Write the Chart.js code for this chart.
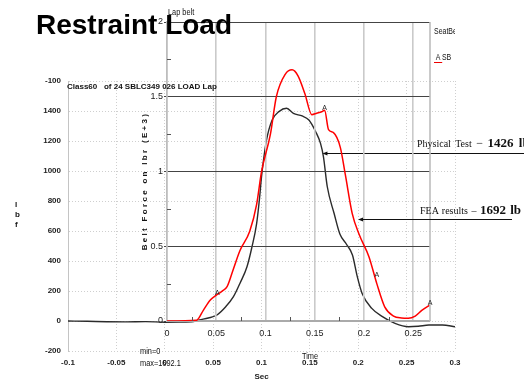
<!DOCTYPE html>
<html lang="en">
<head>
<meta charset="UTF-8" />
<title>Restraint Load</title>
<style>
  body { margin: 0; background: #fff; }
  #wrap {
    position: relative;
    width: 524px;
    height: 380px;
    overflow: hidden;
    font-family: 'Liberation Sans', Arial, sans-serif;
    color: #111;
  }
  .layer { position: absolute; left: 0; top: 0; width: 524px; height: 380px; }
  .txt { position: absolute; white-space: pre; line-height: 1; }
  /* no narrow face installed, so squeeze the regular one */
  .narrow { transform: scaleX(0.82); transform-origin: 0 0; }
  .serif { font-family: 'Liberation Serif', 'Times New Roman', serif; }
</style>
</head>
<body>
<div id="wrap">
  <div class="layer"><canvas id="testChart"></canvas></div>
  <div class="layer"><canvas id="feaChart"></canvas></div>

  <div class="txt narrow" style="left:168px;top:8px;font-size:9px;">Lap belt</div>
  <div class="txt" style="left:36px;top:11px;font-size:28px;font-weight:bold;color:#000;">Restraint Load</div>
  <div class="txt" style="left:67px;top:83px;font-size:8px;font-weight:bold;">Class60   of 24 SBLC349 026 LOAD Lap</div>
  <div class="txt" style="left:434px;top:27px;width:21px;height:10px;overflow:hidden;"><div class="narrow" style="font-size:8.5px;">SeatBelt</div></div>
  <div class="txt narrow" style="left:434px;top:53px;font-size:8.5px;"><span style="border-bottom:1.5px solid #e00;padding:0 2px;">A</span>SB</div>
  <div class="txt" style="left:15px;top:200px;font-size:8px;font-weight:bold;line-height:10px;">l<br>b<br>f</div>
  <div class="txt" style="left:145px;top:181px;font-size:8px;font-weight:bold;letter-spacing:2.3px;transform:translate(-50%,-50%) rotate(-90deg);">Belt Force on lbr (E+3)</div>

  <div class="txt serif" style="left:417px;top:136px;font-size:10px;word-spacing:2px;">Physical Test <span style="font-size:12px;">&minus;</span> <b style="font-size:13px;">1426 lb</b></div>
  <div class="txt serif" style="left:420px;top:203px;font-size:10px;word-spacing:1px;">FEA results &ndash; <b style="font-size:13px;">1692 lb</b></div>

  <div class="txt narrow" style="left:140px;top:347px;font-size:9px;">min=0</div>
  <div class="txt narrow" style="left:140px;top:359px;font-size:9px;">max=1692.1</div>
  <div class="txt narrow" style="left:302px;top:352px;font-size:9px;">Time</div>
</div>

<script src="https://cdn.jsdelivr.net/npm/chart.js"></script>
<script>
  // Physical test (back chart): time in s, belt load in lbf
  const physT = [-0.1, -0.08, -0.06, -0.04, -0.02, 0, 0.015, 0.03, 0.036, 0.045, 0.054, 0.063, 0.071, 0.078,
    0.085, 0.09, 0.095, 0.098, 0.1, 0.105, 0.111, 0.118, 0.126, 0.133, 0.142, 0.149, 0.156, 0.161, 0.164,
    0.168, 0.175, 0.181, 0.188, 0.194, 0.199, 0.204, 0.214, 0.225, 0.238, 0.252, 0.262, 0.273, 0.287, 0.3];
  const physLbf = [0, -2, -5, -6, -4, -8, -7, -3, 7, 20, 40, 95, 162, 255,
    362, 490, 651, 820, 960, 1200, 1340, 1396, 1418, 1384, 1367, 1340, 1262, 1184, 1096,
    895, 718, 580, 510, 440, 296, 184, 84, 29, -16, -38, -35, -27, -27, -38];

  // FEA results (front chart): time in s, belt force in lbf (E+3)
  const feaT = [0, 0.03, 0.037, 0.044, 0.05, 0.056, 0.061, 0.067, 0.074, 0.084, 0.091, 0.096, 0.105, 0.111,
    0.12, 0.127, 0.133, 0.14, 0.147, 0.152, 0.157, 0.16, 0.164, 0.169, 0.176, 0.181, 0.188, 0.195,
    0.205, 0.213, 0.221, 0.23, 0.238, 0.245, 0.252, 0.259, 0.267];
  const feaK = [0, 0.005, 0.073, 0.14, 0.173, 0.2, 0.23, 0.34, 0.47, 0.6, 0.78, 1.0, 1.25, 1.5,
    1.65, 1.68, 1.64, 1.52, 1.38, 1.39, 1.4, 1.41, 1.28, 1.26, 1.16, 0.98, 0.72, 0.58,
    0.43, 0.25, 0.095, 0.033, 0.02, 0.018, 0.033, 0.073, 0.107];

  // "A" symbols on the FEA curve
  const feaMarkT = [0.05, 0.159, 0.212, 0.266];
  const feaMarkK = [0.18, 1.42, 0.3, 0.11];

  // tick values / labels
  const testXTicks = [-0.1, -0.05, 0, 0.05, 0.1, 0.15, 0.2, 0.25, 0.3];
  const testYTicks = [-200, 0, 200, 400, 600, 800, 1000, 1200, 1400, 1600];
  const testYLabels = ['-200', '0', '200', '400', '600', '800', '1000', '1200', '1400', '-100'];
  const feaXTicks = [0, 0.05, 0.1, 0.15, 0.2, 0.25];
  const feaYTicks = [0, 0.5, 1, 1.5, 2];
  const feaXMinor = [0.025, 0.075, 0.125, 0.175, 0.225];
  const feaYMinor = [0.25, 0.75, 1.25, 1.75];

  // arrow tips: [time, value]
  const physArrow = [0.163, 1120];
  const feaArrow = [0.194, 0.68];

  const boldSmall = { family: "'Liberation Sans', Arial, sans-serif", size: 8, weight: 'bold' };
  const narrow = { family: "'Liberation Sans', Arial, sans-serif", size: 9 };

  function drawArrow(ctx, tipX, tipY, endX) {
    ctx.strokeStyle = '#111';
    ctx.fillStyle = '#111';
    ctx.lineWidth = 1.2;
    ctx.beginPath();
    ctx.moveTo(tipX + 4, tipY);
    ctx.lineTo(endX, tipY);
    ctx.stroke();
    ctx.beginPath();
    ctx.moveTo(tipX, tipY);
    ctx.lineTo(tipX + 5, tipY - 2);
    ctx.lineTo(tipX + 5, tipY + 2);
    ctx.closePath();
    ctx.fill();
  }

  const testExtras = {
    id: 'testExtras',
    afterDatasetsDraw(chart) {
      const { ctx, scales: { x, y } } = chart;
      ctx.save();
      drawArrow(ctx, x.getPixelForValue(physArrow[0]), Math.round(y.getPixelForValue(physArrow[1])) + 0.5, 524);
      ctx.restore();
    }
  };

  const feaExtras = {
    id: 'feaExtras',
    afterDatasetsDraw(chart) {
      const { ctx, chartArea: a, scales: { x, y } } = chart;
      ctx.save();
      // right frame edge
      ctx.strokeStyle = '#bdbdbd';
      ctx.lineWidth = 1.6;
      ctx.beginPath();
      ctx.moveTo(a.right, a.top);
      ctx.lineTo(a.right, a.bottom);
      ctx.stroke();
      // minor ticks
      ctx.strokeStyle = '#555';
      ctx.lineWidth = 1;
      ctx.beginPath();
      feaXMinor.forEach(v => {
        const px = Math.round(x.getPixelForValue(v)) + 0.5;
        ctx.moveTo(px, a.bottom);
        ctx.lineTo(px, a.bottom - 4);
      });
      feaYMinor.forEach(v => {
        const py = Math.round(y.getPixelForValue(v)) + 0.5;
        ctx.moveTo(a.left, py);
        ctx.lineTo(a.left + 4, py);
      });
      ctx.stroke();
      // A markers
      ctx.fillStyle = '#222';
      ctx.font = "7px 'Liberation Sans', sans-serif";
      ctx.textAlign = 'center';
      ctx.textBaseline = 'middle';
      chart.getDatasetMeta(1).data.forEach(p => ctx.fillText('A', p.x + 1, p.y - 1));
      drawArrow(ctx, x.getPixelForValue(feaArrow[0]), Math.round(y.getPixelForValue(feaArrow[1])) + 0.5, 512);
      ctx.restore();
    }
  };

  new Chart(document.getElementById('testChart'), {
    type: 'line',
    data: {
      datasets: [{
        data: physT.map((t, i) => ({ x: t, y: physLbf[i] })),
        borderColor: '#2b2b2b',
        borderWidth: 1.4,
        pointRadius: 0,
        cubicInterpolationMode: 'monotone'
      }]
    },
    options: {
      responsive: true,
      maintainAspectRatio: false,
      animation: false,
      layout: { padding: { left: 0, right: 69, top: 81, bottom: 0 } },
      plugins: { legend: { display: false }, tooltip: { enabled: false } },
      scales: {
        x: {
          type: 'linear',
          min: -0.1,
          max: 0.3,
          afterBuildTicks: s => { s.ticks = testXTicks.map(v => ({ value: v })); },
          afterFit: s => { s.height = 29; },
          ticks: {
            padding: 7, maxRotation: 0, autoSkip: false, font: boldSmall, color: '#222',
            callback: v => String(+v.toFixed(2))
          },
          grid: { color: '#cfcfcf', drawTicks: false },
          border: { display: false, dash: [1, 2] },
          title: { display: true, text: 'Sec', padding: { top: 0, bottom: -2 }, font: boldSmall, color: '#222' }
        },
        y: {
          type: 'linear',
          min: -200,
          max: 1600,
          afterBuildTicks: s => { s.ticks = testYTicks.map(v => ({ value: v })); },
          afterFit: s => { s.width = 68; },
          ticks: {
            padding: 7, font: boldSmall, color: '#222',
            callback: v => testYLabels[testYTicks.indexOf(v)]
          },
          grid: { color: '#cfcfcf', drawTicks: false },
          border: { display: true, color: '#c4c4c4', dash: [1, 2] }
        }
      }
    },
    plugins: [testExtras]
  });

  new Chart(document.getElementById('feaChart'), {
    type: 'line',
    data: {
      datasets: [{
        data: feaT.map((t, i) => ({ x: t, y: feaK[i] })),
        borderColor: '#ff0000',
        borderWidth: 1.5,
        pointRadius: 0,
        cubicInterpolationMode: 'monotone'
      }, {
        data: feaMarkT.map((t, i) => ({ x: t, y: feaMarkK[i] })),
        showLine: false,
        pointRadius: 0
      }]
    },
    options: {
      responsive: true,
      maintainAspectRatio: false,
      animation: false,
      layout: { padding: { left: 137, right: 94, top: 22, bottom: 41 } },
      plugins: { legend: { display: false }, tooltip: { enabled: false } },
      scales: {
        x: {
          type: 'linear',
          min: 0,
          max: 0.267,
          afterBuildTicks: s => { s.ticks = feaXTicks.map(v => ({ value: v })); },
          afterFit: s => { s.height = 18; },
          ticks: {
            padding: 7, maxRotation: 0, autoSkip: false, font: narrow, color: '#222',
            callback: v => String(+v.toFixed(2))
          },
          grid: { color: '#cacaca', lineWidth: 1.6, drawTicks: false },
          border: { color: '#aaaaaa', width: 1.2 }
        },
        y: {
          type: 'linear',
          min: 0,
          max: 2,
          afterBuildTicks: s => { s.ticks = feaYTicks.map(v => ({ value: v })); },
          afterFit: s => { s.width = 30; },
          ticks: { padding: 1, font: narrow, color: '#222', callback: v => String(v) },
          grid: {
            color: c => (c.tick && c.tick.value === 0 ? '#aaaaaa' : '#444444'),
            lineWidth: 1, tickLength: 3, tickColor: '#444444'
          },
          border: { color: '#bdbdbd', width: 1.6 }
        }
      }
    },
    plugins: [feaExtras]
  });
</script>
</body>
</html>
